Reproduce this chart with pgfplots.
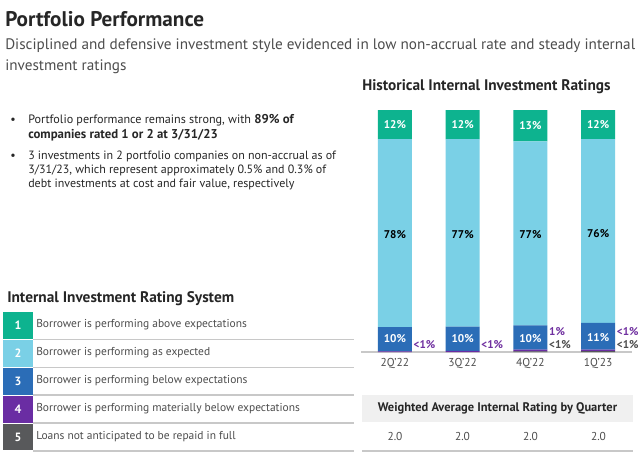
\documentclass[border=0pt]{standalone}
\usepackage{pgfplots}
\pgfplotsset{compat=1.18}
\usepackage{fontspec}
\setmainfont{PT Sans}
\definecolor{rOne}{HTML}{0DB38F}
\definecolor{rTwo}{HTML}{7AD0E6}
\definecolor{rThree}{HTML}{2B6DB7}
\definecolor{rFour}{HTML}{6A2DA3}
\definecolor{rFive}{HTML}{58595B}
\definecolor{lab}{HTML}{7030A0}
\definecolor{txt}{HTML}{262626}
\definecolor{sub}{HTML}{4D4D4D}
\definecolor{gline}{HTML}{C8C8C8}
\definecolor{panel}{HTML}{F0F0F0}
\newcommand\fs[1]{\fontsize{#1}{#1}\selectfont}
\pgfplotsset{barframe/.style={
  at={(270.75pt,77.25pt)}, anchor=south west,
  scale only axis, width=203.25pt, height=181.5pt,
  xmin=-0.5, xmax=3.5, ymin=0, ymax=100, clip=false}}
\begin{document}
\begin{tikzpicture}[x=0.75pt,y=0.75pt]
\path[use as bounding box, fill=white] (0,0) rectangle (640,455);
\begin{scope}[yshift=341.25pt,y=-0.75pt]
% titles
\node[anchor=base west, inner sep=0, font=\bfseries\fs{15.9}, text=txt] at (5,26.5) {Portfolio Performance};
\node[anchor=base west, inner sep=0, font=\fs{11.4}, text=sub] at (5,49) {Disciplined and defensive investment style evidenced in low non-accrual rate and steady internal};
\node[anchor=base west, inner sep=0, font=\fs{11.4}, text=sub] at (5,70) {investment ratings};
\node[anchor=base west, inner sep=0, font=\bfseries\fs{11.5}, text=txt] at (362,90) {Historical Internal Investment Ratings};
% bullets
\foreach \yy in {123,159} {\node[anchor=base west, inner sep=0, font=\fs{9}, text=txt] at (10,\yy) {\textbullet};}
\node[anchor=base west, inner sep=0, font=\fs{9.1}, text=txt] at (28,123) {Portfolio performance remains strong, with \textbf{\fs{9.6}89\% of}};
\node[anchor=base west, inner sep=0, font=\bfseries\fs{9.6}, text=txt] at (28,138) {companies rated 1 or 2 at 3/31/23};
\node[anchor=base west, inner sep=0, font=\fs{9}, text=txt] at (28,159) {3 investments in 2 portfolio companies on non-accrual as of};
\node[anchor=base west, inner sep=0, font=\fs{9}, text=txt] at (28,173) {3/31/23, which represent approximately 0.5\% and 0.3\% of};
\node[anchor=base west, inner sep=0, font=\fs{9}, text=txt] at (28,187) {debt investments at cost and fair value, respectively};
% rating system table
\node[anchor=base west, inner sep=0, font=\bfseries\fs{11.5}, text=txt] at (7,302) {Internal Investment Rating System};
\foreach \i/\c/\t [count=\k from 0] in {1/rOne/{Borrower is performing above expectations},2/rTwo/{Borrower is performing as expected},3/rThree/{Borrower is performing below expectations},4/rFour/{Borrower is performing materially below expectations},5/rFive/{Loans not anticipated to be repaid in full}} {
  \pgfmathsetmacro\ytop{311.5+27.9*\k}
  \pgfmathsetmacro\ybot{\ytop+27.9}
  \pgfmathsetmacro\ymid{\ytop+13.95}
  \fill[\c] (3,\ytop+0.6) rectangle (33,\ybot-0.6);
  \node[inner sep=0, font=\bfseries\fs{9}, text=white] at (18,\ymid) {\i};
  \node[anchor=west, inner sep=0, font=\fs{8.6}, text=sub] at (36,\ymid) {\strut\t};
  \draw[gline, line width=1.1pt] (33,\ybot) -- (354,\ybot);
}
% weighted average panel
\fill[panel] (362,395) rectangle (633,422);
\node[inner sep=0, font=\bfseries\fs{9.35}, text=txt] at (497.5,408.5) {Weighted Average Internal Rating by Quarter};
\foreach \xx in {395,462.5,530.5,598.5} {\node[inner sep=0, font=\fs{8.6}, text=sub] at (\xx,436) {2.0};}
\draw[gline, line width=1.1pt] (362,451) -- (633,451);
\end{scope}
\begin{axis}[
  barframe,
  ybar stacked, bar width=25.5pt,
  axis y line=none, axis x line*=bottom,
  x axis line style={draw=gline, line width=1.1pt, -},
  xtick={0,1,2,3}, xticklabels={2Q'22,3Q'22,4Q'22,1Q'23},
  major tick length=0pt,
  xticklabel style={anchor=center, yshift=-8.25pt, font=\fs{8.6}, text=sub},
]
\addplot[fill=rFive, draw=none] coordinates {(0,0) (1,0) (2,0.3) (3,0.4)};
\addplot[fill=rFour, draw=none] coordinates {(0,0.3) (1,0.5) (2,0.7) (3,0.6)};
\addplot[fill=rThree, draw=none] coordinates {(0,10) (1,10) (2,10) (3,11)};
\addplot[fill=rTwo, draw=none] coordinates {(0,77.7) (1,77.5) (2,76) (3,76)};
\addplot[fill=rOne, draw=none] coordinates {(0,12) (1,12) (2,13) (3,12)};
\end{axis}
\begin{axis}[barframe, hide axis]
% segment labels
\node[font=\bfseries\fs{8.4}, text=white] at (axis cs:0,94) {12\%};
\node[font=\bfseries\fs{8.4}, text=white] at (axis cs:1,94) {12\%};
\node[font=\bfseries\fs{8.4}, text=white] at (axis cs:2,93.7) {13\%};
\node[font=\bfseries\fs{8.4}, text=white] at (axis cs:3,94) {12\%};
\node[font=\bfseries\fs{8.4}, text=black] at (axis cs:0,48.6) {78\%};
\node[font=\bfseries\fs{8.4}, text=black] at (axis cs:1,48.6) {77\%};
\node[font=\bfseries\fs{8.4}, text=black] at (axis cs:2,48.6) {77\%};
\node[font=\bfseries\fs{8.4}, text=black] at (axis cs:3,49) {76\%};
\node[font=\bfseries\fs{8.4}, text=white] at (axis cs:0,5.4) {10\%};
\node[font=\bfseries\fs{8.4}, text=white] at (axis cs:1,5.4) {10\%};
\node[font=\bfseries\fs{8.4}, text=white] at (axis cs:2,5.4) {10\%};
\node[font=\bfseries\fs{8.4}, text=white] at (axis cs:3,5.8) {11\%};
% small-share labels beside bars
\node[anchor=west, inner sep=0, xshift=1.2pt, font=\bfseries\fs{8.4}, text=lab] at (axis cs:0.25,2.9) {<1\%};
\node[anchor=west, inner sep=0, xshift=1.2pt, font=\bfseries\fs{8.4}, text=lab] at (axis cs:1.25,2.9) {<1\%};
\node[anchor=west, inner sep=0, xshift=1.2pt, font=\bfseries\fs{8.4}, text=lab] at (axis cs:2.25,8.3) {1\%};
\node[anchor=west, inner sep=0, xshift=1.2pt, font=\bfseries\fs{8.4}, text=sub] at (axis cs:2.25,2.9) {<1\%};
\node[anchor=west, inner sep=0, xshift=1.2pt, font=\bfseries\fs{8.4}, text=lab] at (axis cs:3.25,8.3) {<1\%};
\node[anchor=west, inner sep=0, xshift=1.2pt, font=\bfseries\fs{8.4}, text=sub] at (axis cs:3.25,2.9) {<1\%};
\end{axis}
\end{tikzpicture}
\end{document}
